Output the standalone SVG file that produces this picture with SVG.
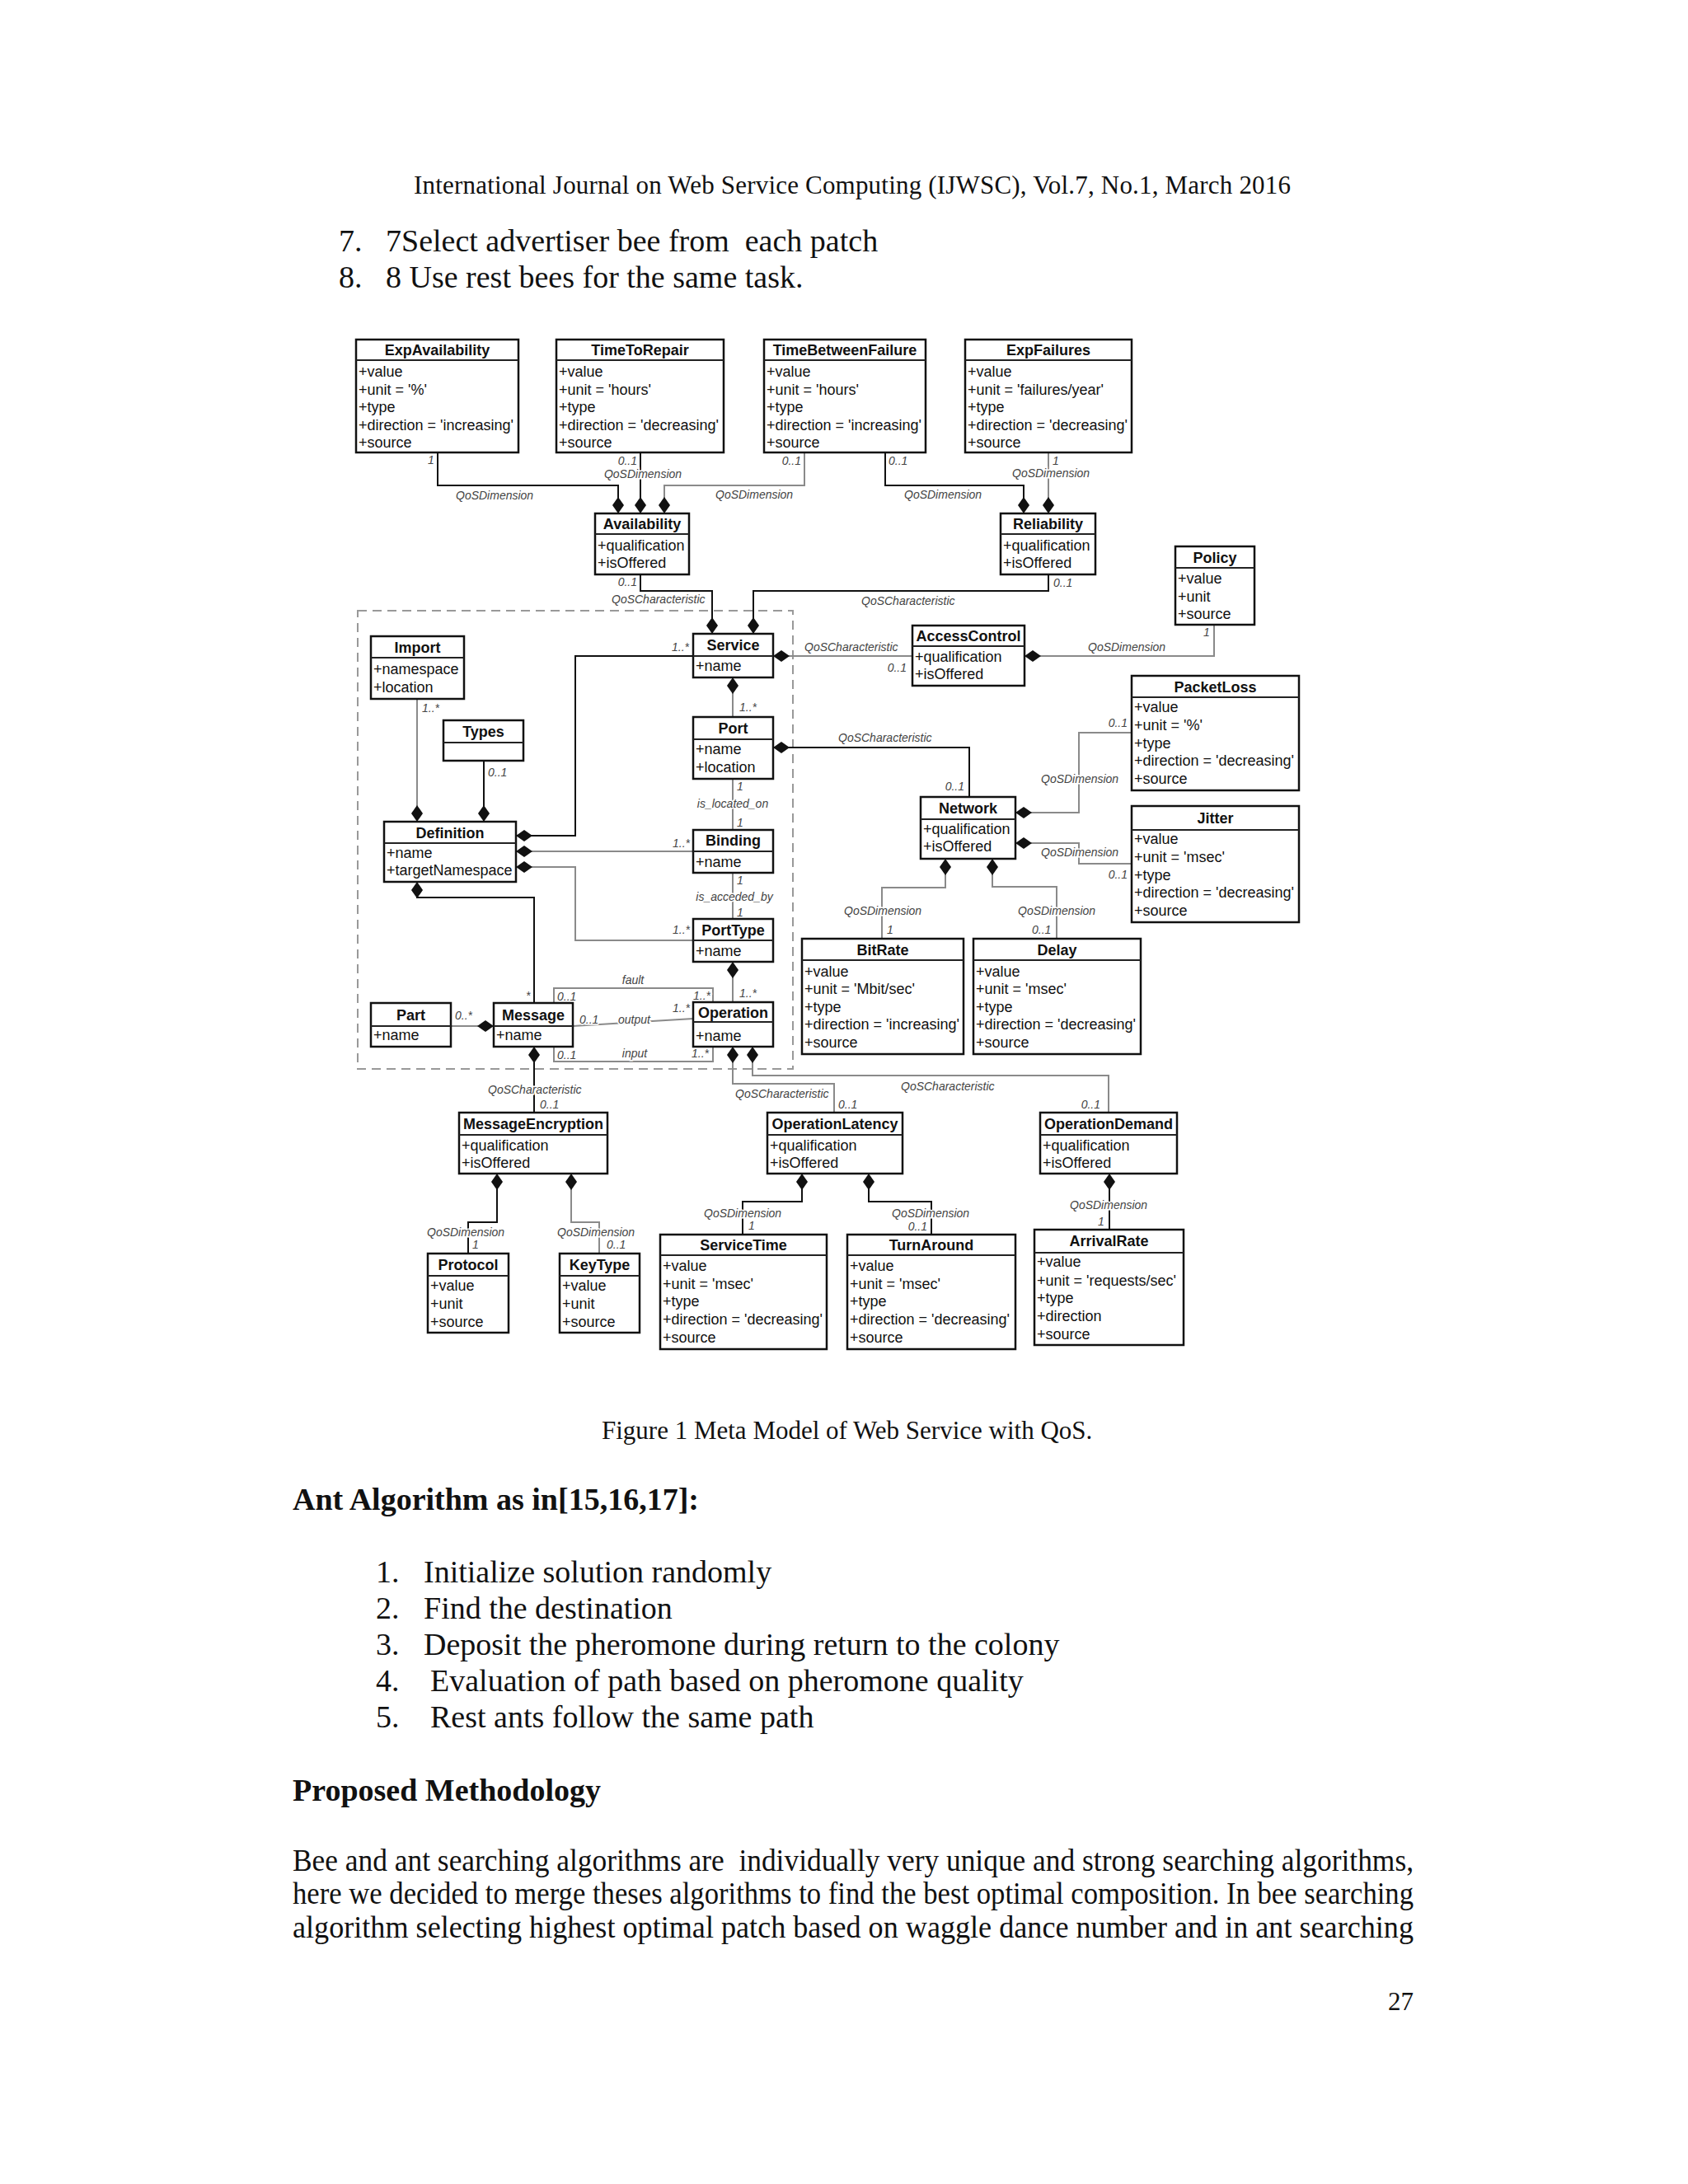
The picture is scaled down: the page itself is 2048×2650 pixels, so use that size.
<svg xmlns="http://www.w3.org/2000/svg" width="2048" height="2650" viewBox="0 0 2048 2650">
<style>
.box{fill:#fff;stroke:#111;stroke-width:2.5}
.sep{stroke:#222;stroke-width:2}
.t{font-family:"Liberation Sans",Arial,sans-serif;font-weight:bold;font-size:18px;text-anchor:middle;fill:#111}
.a{font-family:"Liberation Sans",Arial,sans-serif;font-size:18px;fill:#111}
.l{font-family:"Liberation Sans",Arial,sans-serif;font-style:italic;font-size:14px;fill:#444;stroke:#fff;stroke-width:3;paint-order:stroke}
.m{text-anchor:middle}
.e{text-anchor:end}
.k{fill:none;stroke:#111;stroke-width:2}
.g{fill:none;stroke:#8a8a8a;stroke-width:2}
.d{marker-start:url(#dia)}
.dash{fill:none;stroke:#999;stroke-width:2;stroke-dasharray:11,7}
.h{font-family:"Liberation Serif","Times New Roman",serif;font-size:31px;fill:#111}
.b{font-family:"Liberation Serif","Times New Roman",serif;font-size:38px;fill:#111}
.bb{font-family:"Liberation Serif","Times New Roman",serif;font-size:38px;font-weight:bold;fill:#111}
</style>
<defs>
<marker id="dia" markerUnits="userSpaceOnUse" viewBox="0 -8 22 16" markerWidth="22" markerHeight="16" refX="0" refY="0" orient="auto">
<path d="M0,0 L10,-7 L20,0 L10,7 Z" fill="#111"/>
</marker>
</defs>
<rect width="2048" height="2650" fill="#fff"/>

<!-- page text -->
<g id="page-text">
<text class="h" x="502" y="235" textLength="1064" lengthAdjust="spacing">International Journal on Web Service Computing (IJWSC), Vol.7, No.1, March 2016</text>
<text class="b" x="411" y="305">7.</text>
<text class="b" x="468" y="305" xml:space="preserve">7Select advertiser bee from  each patch</text>
<text class="b" x="411" y="349">8.</text>
<text class="b" x="468" y="349">8 Use rest bees for the same task.</text>
<text class="h" x="730" y="1746">Figure 1 Meta Model of Web Service with QoS.</text>
<text class="bb" x="355" y="1832">Ant Algorithm as in[15,16,17]:</text>
<text class="b" x="456" y="1920">1.</text><text class="b" x="514" y="1920">Initialize solution randomly</text>
<text class="b" x="456" y="1964">2.</text><text class="b" x="514" y="1964">Find the destination</text>
<text class="b" x="456" y="2008">3.</text><text class="b" x="514" y="2008">Deposit the pheromone during return to the colony</text>
<text class="b" x="456" y="2052">4.</text><text class="b" x="522" y="2052">Evaluation of path based on pheromone quality</text>
<text class="b" x="456" y="2096">5.</text><text class="b" x="522" y="2096">Rest ants follow the same path</text>
<text class="bb" x="355" y="2185">Proposed Methodology</text>
<text class="b" x="355" y="2270" textLength="1360" lengthAdjust="spacingAndGlyphs" xml:space="preserve">Bee and ant searching algorithms are  individually very unique and strong searching algorithms,</text>
<text class="b" x="355" y="2310" textLength="1360" lengthAdjust="spacingAndGlyphs">here we decided to merge theses algorithms to find the best optimal composition. In bee searching</text>
<text class="b" x="355" y="2351" textLength="1360" lengthAdjust="spacingAndGlyphs">algorithm selecting highest optimal patch based on waggle dance number and in ant searching</text>
<text class="h" x="1715" y="2439" text-anchor="end">27</text>
</g>

<!-- WSDL boundary -->
<rect id="wsdl-boundary" class="dash" x="434" y="741" width="528" height="556"/>

<!-- connectors -->
<g id="connectors">
<path class="k d" d="M750,623 V589 H531 V549"/>
<path class="k d" d="M777,623 V549"/>
<path class="g d" d="M806,623 V589 H976 V549"/>
<path class="k d" d="M1242,623 V589 H1074 V549"/>
<path class="g d" d="M1272,623 V549"/>
<path class="k d" d="M864,769 V717 H777 V697"/>
<path class="k d" d="M914,769 V717 H1272 V697"/>
<path class="g d" d="M938,796 H1107"/>
<path class="g d" d="M1243,796 H1473 V758"/>
<path class="k d" d="M626,1014 H698 V796 H841"/>
<path class="g d" d="M889,822 V870"/>
<path class="g d" d="M506,997 V848"/>
<path class="k d" d="M587,997 V923"/>
<path class="g" d="M889,945 V1007"/>
<path class="k d" d="M938,907 H1176 V967"/>
<path class="g d" d="M626,1033 H841"/>
<path class="g d" d="M626,1052 H698 V1141 H841"/>
<path class="g" d="M889,1059 V1115"/>
<path class="g d" d="M889,1167 V1216"/>
<path class="g d" d="M1232,986 H1309 V889 H1373"/>
<path class="g d" d="M1232,1023 H1309 V1048 H1373"/>
<path class="g d" d="M1147,1042 V1077 H1070 V1139"/>
<path class="g d" d="M1204,1042 V1076 H1282 V1139"/>
<path class="k d" d="M506,1070 V1089 H648 V1217"/>
<path class="g d" d="M599,1245 H547"/>
<path class="g" d="M672,1217 V1199 H865 V1216"/>
<path class="g" d="M672,1270 V1288 H865 V1270"/>
<path class="g" d="M695,1245 L841,1236"/>
<path class="g d" d="M889,1270 V1315 H1012 V1350"/>
<path class="g d" d="M913,1270 V1305 H1345 V1350"/>
<path class="k d" d="M648,1270 V1350"/>
<path class="k d" d="M603,1424 V1483 H568 V1521"/>
<path class="g d" d="M693,1424 V1483 H727 V1521"/>
<path class="k d" d="M973,1424 V1458 H901 V1498"/>
<path class="k d" d="M1054,1424 V1458 H1130 V1498"/>
<path class="k d" d="M1346,1424 V1492"/>
</g>

<!-- connector labels -->
<g id="labels">
<text class="l" x="519" y="563">1</text>
<text class="l" x="553" y="606">QoSDimension</text>
<text class="l e" x="773" y="564">0..1</text>
<text class="l m" x="780" y="580">QoSDimension</text>
<text class="l e" x="972" y="564">0..1</text>
<text class="l" x="868" y="605">QoSDimension</text>
<text class="l" x="1078" y="564">0..1</text>
<text class="l" x="1097" y="605">QoSDimension</text>
<text class="l" x="1277" y="564">1</text>
<text class="l" x="1228" y="579">QoSDimension</text>
<text class="l e" x="773" y="711">0..1</text>
<text class="l" x="742" y="732">QoSCharacteristic</text>
<text class="l" x="1045" y="734">QoSCharacteristic</text>
<text class="l" x="1278" y="712">0..1</text>
<text class="l" x="976" y="790">QoSCharacteristic</text>
<text class="l e" x="1100" y="815">0..1</text>
<text class="l" x="1460" y="772">1</text>
<text class="l" x="1320" y="790">QoSDimension</text>
<text class="l e" x="836" y="790">1..*</text>
<text class="l" x="897" y="863">1..*</text>
<text class="l" x="512" y="864">1..*</text>
<text class="l" x="592" y="942">0..1</text>
<text class="l" x="894" y="959">1</text>
<text class="l m" x="889" y="980">is_located_on</text>
<text class="l" x="894" y="1003">1</text>
<text class="l" x="1017" y="900">QoSCharacteristic</text>
<text class="l e" x="1170" y="959">0..1</text>
<text class="l e" x="837" y="1028">1..*</text>
<text class="l e" x="837" y="1133">1..*</text>
<text class="l" x="894" y="1073">1</text>
<text class="l m" x="891" y="1093">is_acceded_by</text>
<text class="l" x="894" y="1112">1</text>
<text class="l" x="897" y="1210">1..*</text>
<text class="l e" x="1368" y="882">0..1</text>
<text class="l" x="1263" y="950">QoSDimension</text>
<text class="l" x="1263" y="1039">QoSDimension</text>
<text class="l e" x="1368" y="1066">0..1</text>
<text class="l" x="1024" y="1110">QoSDimension</text>
<text class="l" x="1076" y="1133">1</text>
<text class="l" x="1235" y="1110">QoSDimension</text>
<text class="l" x="1252" y="1133">0..1</text>
<text class="l" x="638" y="1213">*</text>
<text class="l" x="552" y="1237">0..*</text>
<text class="l" x="676" y="1214">0..1</text>
<text class="l m" x="768" y="1194">fault</text>
<text class="l e" x="862" y="1213">1..*</text>
<text class="l" x="703" y="1242">0..1</text>
<text class="l" x="750" y="1242">output</text>
<text class="l e" x="837" y="1228">1..*</text>
<text class="l" x="676" y="1285">0..1</text>
<text class="l m" x="770" y="1283">input</text>
<text class="l e" x="860" y="1283">1..*</text>
<text class="l" x="892" y="1332">QoSCharacteristic</text>
<text class="l" x="1017" y="1345">0..1</text>
<text class="l" x="1093" y="1323">QoSCharacteristic</text>
<text class="l e" x="1335" y="1345">0..1</text>
<text class="l" x="592" y="1327">QoSCharacteristic</text>
<text class="l" x="655" y="1345">0..1</text>
<text class="l" x="518" y="1500">QoSDimension</text>
<text class="l" x="573" y="1515">1</text>
<text class="l" x="676" y="1500">QoSDimension</text>
<text class="l" x="736" y="1515">0..1</text>
<text class="l" x="854" y="1477">QoSDimension</text>
<text class="l" x="908" y="1492">1</text>
<text class="l" x="1082" y="1477">QoSDimension</text>
<text class="l e" x="1125" y="1493">0..1</text>
<text class="l" x="1298" y="1467">QoSDimension</text>
<text class="l" x="1332" y="1487">1</text>
</g>

<!-- nodes -->
<g id="ExpAvailability">
<rect class="box" x="432" y="412" width="197" height="137"/><line class="sep" x1="432" y1="437" x2="629" y2="437"/>
<text class="t" x="530.5" y="431">ExpAvailability</text>
<text class="a" x="435" y="457">+value</text><text class="a" x="435" y="478.5">+unit = '%'</text><text class="a" x="435" y="500">+type</text><text class="a" x="435" y="521.5">+direction = 'increasing'</text><text class="a" x="435" y="543">+source</text>
</g>
<g id="TimeToRepair">
<rect class="box" x="675" y="412" width="203" height="137"/><line class="sep" x1="675" y1="437" x2="878" y2="437"/>
<text class="t" x="776.5" y="431">TimeToRepair</text>
<text class="a" x="678" y="457">+value</text><text class="a" x="678" y="478.5">+unit = 'hours'</text><text class="a" x="678" y="500">+type</text><text class="a" x="678" y="521.5">+direction = 'decreasing'</text><text class="a" x="678" y="543">+source</text>
</g>
<g id="TimeBetweenFailure">
<rect class="box" x="927" y="412" width="196" height="137"/><line class="sep" x1="927" y1="437" x2="1123" y2="437"/>
<text class="t" x="1025" y="431">TimeBetweenFailure</text>
<text class="a" x="930" y="457">+value</text><text class="a" x="930" y="478.5">+unit = 'hours'</text><text class="a" x="930" y="500">+type</text><text class="a" x="930" y="521.5">+direction = 'increasing'</text><text class="a" x="930" y="543">+source</text>
</g>
<g id="ExpFailures">
<rect class="box" x="1171" y="412" width="202" height="137"/><line class="sep" x1="1171" y1="437" x2="1373" y2="437"/>
<text class="t" x="1272" y="431">ExpFailures</text>
<text class="a" x="1174" y="457">+value</text><text class="a" x="1174" y="478.5">+unit = 'failures/year'</text><text class="a" x="1174" y="500">+type</text><text class="a" x="1174" y="521.5">+direction = 'decreasing'</text><text class="a" x="1174" y="543">+source</text>
</g>
<g id="Availability">
<rect class="box" x="722" y="623" width="114" height="74"/><line class="sep" x1="722" y1="648" x2="836" y2="648"/>
<text class="t" x="779" y="642">Availability</text>
<text class="a" x="725" y="668">+qualification</text><text class="a" x="725" y="689">+isOffered</text>
</g>
<g id="Reliability">
<rect class="box" x="1214" y="623" width="115" height="74"/><line class="sep" x1="1214" y1="648" x2="1329" y2="648"/>
<text class="t" x="1271.5" y="642">Reliability</text>
<text class="a" x="1217" y="668">+qualification</text><text class="a" x="1217" y="689">+isOffered</text>
</g>
<g id="Policy">
<rect class="box" x="1426" y="663" width="96" height="95"/><line class="sep" x1="1426" y1="689" x2="1522" y2="689"/>
<text class="t" x="1474" y="682.5">Policy</text>
<text class="a" x="1429" y="708">+value</text><text class="a" x="1429" y="729.5">+unit</text><text class="a" x="1429" y="751">+source</text>
</g>
<g id="AccessControl">
<rect class="box" x="1107" y="759" width="136" height="73"/><line class="sep" x1="1107" y1="784" x2="1243" y2="784"/>
<text class="t" x="1175" y="778">AccessControl</text>
<text class="a" x="1110" y="803">+qualification</text><text class="a" x="1110" y="824">+isOffered</text>
</g>
<g id="Service">
<rect class="box" x="841" y="769" width="97" height="53"/><line class="sep" x1="841" y1="796" x2="938" y2="796"/>
<text class="t" x="889.5" y="789">Service</text>
<text class="a" x="844" y="814">+name</text>
</g>
<g id="Import">
<rect class="box" x="450" y="772" width="113" height="76"/><line class="sep" x1="450" y1="798" x2="563" y2="798"/>
<text class="t" x="506.5" y="791.5">Import</text>
<text class="a" x="453" y="818">+namespace</text><text class="a" x="453" y="840">+location</text>
</g>
<g id="Types">
<rect class="box" x="538" y="874" width="97" height="49"/><line class="sep" x1="538" y1="901" x2="635" y2="901"/>
<text class="t" x="586.5" y="894">Types</text>
</g>
<g id="Port">
<rect class="box" x="841" y="870" width="97" height="75"/><line class="sep" x1="841" y1="897" x2="938" y2="897"/>
<text class="t" x="889.5" y="890">Port</text>
<text class="a" x="844" y="915">+name</text><text class="a" x="844" y="937">+location</text>
</g>
<g id="PacketLoss">
<rect class="box" x="1373" y="820" width="203" height="139"/><line class="sep" x1="1373" y1="846" x2="1576" y2="846"/>
<text class="t" x="1474.5" y="839.5">PacketLoss</text>
<text class="a" x="1376" y="864">+value</text><text class="a" x="1376" y="886">+unit = '%'</text><text class="a" x="1376" y="908">+type</text><text class="a" x="1376" y="929">+direction = 'decreasing'</text><text class="a" x="1376" y="951">+source</text>
</g>
<g id="Network">
<rect class="box" x="1117" y="967" width="115" height="75"/><line class="sep" x1="1117" y1="994" x2="1232" y2="994"/>
<text class="t" x="1174.5" y="987">Network</text>
<text class="a" x="1120" y="1012">+qualification</text><text class="a" x="1120" y="1033">+isOffered</text>
</g>
<g id="Jitter">
<rect class="box" x="1373" y="978" width="203" height="141"/><line class="sep" x1="1373" y1="1007" x2="1576" y2="1007"/>
<text class="t" x="1474.5" y="999">Jitter</text>
<text class="a" x="1376" y="1024">+value</text><text class="a" x="1376" y="1046">+unit = 'msec'</text><text class="a" x="1376" y="1068">+type</text><text class="a" x="1376" y="1089">+direction = 'decreasing'</text><text class="a" x="1376" y="1111">+source</text>
</g>
<g id="Definition">
<rect class="box" x="466" y="997" width="160" height="73"/><line class="sep" x1="466" y1="1023" x2="626" y2="1023"/>
<text class="t" x="546" y="1016.5">Definition</text>
<text class="a" x="469" y="1041">+name</text><text class="a" x="469" y="1062">+targetNamespace</text>
</g>
<g id="Binding">
<rect class="box" x="841" y="1007" width="97" height="52"/><line class="sep" x1="841" y1="1033" x2="938" y2="1033"/>
<text class="t" x="889.5" y="1026">Binding</text>
<text class="a" x="844" y="1052">+name</text>
</g>
<g id="PortType">
<rect class="box" x="841" y="1115" width="97" height="52"/><line class="sep" x1="841" y1="1141" x2="938" y2="1141"/>
<text class="t" x="889.5" y="1134.5">PortType</text>
<text class="a" x="844" y="1160">+name</text>
</g>
<g id="BitRate">
<rect class="box" x="973" y="1139" width="196" height="140"/><line class="sep" x1="973" y1="1165" x2="1169" y2="1165"/>
<text class="t" x="1071" y="1158.5">BitRate</text>
<text class="a" x="976" y="1185">+value</text><text class="a" x="976" y="1206">+unit = 'Mbit/sec'</text><text class="a" x="976" y="1228">+type</text><text class="a" x="976" y="1249">+direction = 'increasing'</text><text class="a" x="976" y="1271">+source</text>
</g>
<g id="Delay">
<rect class="box" x="1181" y="1139" width="203" height="140"/><line class="sep" x1="1181" y1="1165" x2="1384" y2="1165"/>
<text class="t" x="1282.5" y="1158.5">Delay</text>
<text class="a" x="1184" y="1185">+value</text><text class="a" x="1184" y="1206">+unit = 'msec'</text><text class="a" x="1184" y="1228">+type</text><text class="a" x="1184" y="1249">+direction = 'decreasing'</text><text class="a" x="1184" y="1271">+source</text>
</g>
<g id="Part">
<rect class="box" x="450" y="1217" width="97" height="53"/><line class="sep" x1="450" y1="1245" x2="547" y2="1245"/>
<text class="t" x="498.5" y="1237.5">Part</text>
<text class="a" x="453" y="1262">+name</text>
</g>
<g id="Message">
<rect class="box" x="599" y="1217" width="96" height="53"/><line class="sep" x1="599" y1="1245" x2="695" y2="1245"/>
<text class="t" x="647" y="1237.5">Message</text>
<text class="a" x="602" y="1262">+name</text>
</g>
<g id="Operation">
<rect class="box" x="841" y="1216" width="97" height="54"/><line class="sep" x1="841" y1="1240" x2="938" y2="1240"/>
<text class="t" x="889.5" y="1234.5">Operation</text>
<text class="a" x="844" y="1263">+name</text>
</g>
<g id="MessageEncryption">
<rect class="box" x="557" y="1350" width="180" height="74"/><line class="sep" x1="557" y1="1377" x2="737" y2="1377"/>
<text class="t" x="647" y="1370">MessageEncryption</text>
<text class="a" x="560" y="1396">+qualification</text><text class="a" x="560" y="1417">+isOffered</text>
</g>
<g id="OperationLatency">
<rect class="box" x="931" y="1350" width="164" height="74"/><line class="sep" x1="931" y1="1377" x2="1095" y2="1377"/>
<text class="t" x="1013" y="1370">OperationLatency</text>
<text class="a" x="934" y="1396">+qualification</text><text class="a" x="934" y="1417">+isOffered</text>
</g>
<g id="OperationDemand">
<rect class="box" x="1262" y="1350" width="166" height="74"/><line class="sep" x1="1262" y1="1377" x2="1428" y2="1377"/>
<text class="t" x="1345" y="1370">OperationDemand</text>
<text class="a" x="1265" y="1396">+qualification</text><text class="a" x="1265" y="1417">+isOffered</text>
</g>
<g id="Protocol">
<rect class="box" x="519" y="1521" width="98" height="96"/><line class="sep" x1="519" y1="1548" x2="617" y2="1548"/>
<text class="t" x="568" y="1541">Protocol</text>
<text class="a" x="522" y="1566">+value</text><text class="a" x="522" y="1588">+unit</text><text class="a" x="522" y="1610">+source</text>
</g>
<g id="KeyType">
<rect class="box" x="679" y="1521" width="97" height="96"/><line class="sep" x1="679" y1="1548" x2="776" y2="1548"/>
<text class="t" x="727.5" y="1541">KeyType</text>
<text class="a" x="682" y="1566">+value</text><text class="a" x="682" y="1588">+unit</text><text class="a" x="682" y="1610">+source</text>
</g>
<g id="ServiceTime">
<rect class="box" x="801" y="1498" width="202" height="139"/><line class="sep" x1="801" y1="1523" x2="1003" y2="1523"/>
<text class="t" x="902" y="1517">ServiceTime</text>
<text class="a" x="804" y="1542">+value</text><text class="a" x="804" y="1564">+unit = 'msec'</text><text class="a" x="804" y="1585">+type</text><text class="a" x="804" y="1607">+direction = 'decreasing'</text><text class="a" x="804" y="1629">+source</text>
</g>
<g id="TurnAround">
<rect class="box" x="1028" y="1498" width="204" height="139"/><line class="sep" x1="1028" y1="1523" x2="1232" y2="1523"/>
<text class="t" x="1130" y="1517">TurnAround</text>
<text class="a" x="1031" y="1542">+value</text><text class="a" x="1031" y="1564">+unit = 'msec'</text><text class="a" x="1031" y="1585">+type</text><text class="a" x="1031" y="1607">+direction = 'decreasing'</text><text class="a" x="1031" y="1629">+source</text>
</g>
<g id="ArrivalRate">
<rect class="box" x="1255" y="1492" width="181" height="140"/><line class="sep" x1="1255" y1="1520" x2="1436" y2="1520"/>
<text class="t" x="1345.5" y="1512">ArrivalRate</text>
<text class="a" x="1258" y="1537">+value</text><text class="a" x="1258" y="1560">+unit = 'requests/sec'</text><text class="a" x="1258" y="1581">+type</text><text class="a" x="1258" y="1603">+direction</text><text class="a" x="1258" y="1625">+source</text>
</g>
</svg>
